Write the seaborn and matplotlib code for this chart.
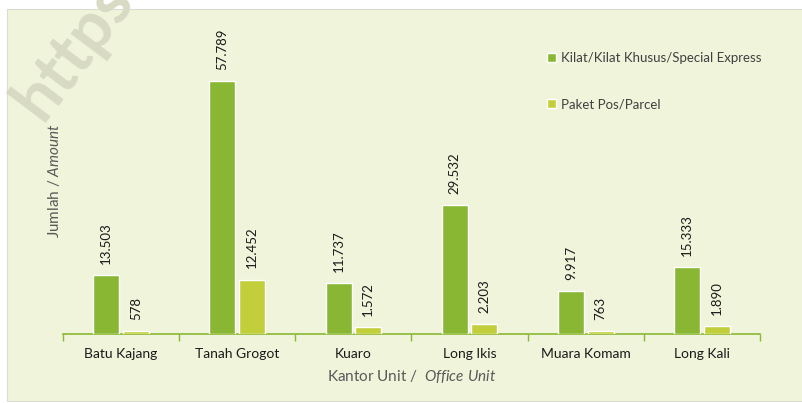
import matplotlib
matplotlib.use("Agg")
import matplotlib.pyplot as plt
import seaborn as sns
import pandas as pd
from matplotlib.patches import Rectangle

offices = ["Batu Kajang", "Tanah Grogot", "Kuaro", "Long Ikis", "Muara Komam", "Long Kali"]
series = ["Kilat/Kilat Khusus/Special Express", "Paket Pos/Parcel"]
kilat = [13503, 57789, 11737, 29532, 9917, 15333]
paket = [578, 12452, 1572, 2203, 763, 1890]

df = pd.DataFrame({
    "office": offices * 2,
    "type": [series[0]] * 6 + [series[1]] * 6,
    "value": kilat + paket,
})

sns.set_style("white")
plt.rcParams["font.family"] = ["Lato", "DejaVu Sans"]
plt.rcParams["mathtext.fontset"] = "custom"
plt.rcParams["mathtext.rm"] = "Lato"
plt.rcParams["mathtext.it"] = "Lato:italic"
plt.rcParams["xtick.bottom"] = True

bg = "#f0f4da"
fig = plt.figure(figsize=(8.03, 4.03), dpi=100)
fig.patch.set_facecolor("white")
fig.patches.append(Rectangle((7 / 803, 0.005), 1, 1 - 9 / 403 - 0.005, transform=fig.transFigure,
                             facecolor=bg, edgecolor="#d9dcd0", lw=0.8, zorder=-2))

# watermark
fig.text(74 / 803, 1 - 50 / 403, "https", rotation=53, fontsize=48, fontweight="bold",
         color="#d8dac3", ha="center", va="center", zorder=-1)

ax = fig.add_axes([63 / 803, 69 / 403, 697 / 803, 306 / 403])
ax.set_facecolor("none")

sns.barplot(data=df, x="office", y="value", hue="type", order=offices, hue_order=series,
            palette=["#8ab733", "#c3cf3a"], saturation=1, width=0.51, gap=0.12, ax=ax, zorder=3)

ax.set_ylim(0, 70000)
ax.set_xlim(-0.5, 5.5)

for cont in ax.containers:
    for bar in cont:
        v = bar.get_height()
        ax.annotate(f"{int(v):,}".replace(",", "."), (bar.get_x() + bar.get_width() / 2, v),
                    xytext=(0, 8), textcoords="offset points", rotation=90,
                    ha="center", va="bottom", fontsize=9.5, color="#1a1a1a")

for s in ["top", "right", "left"]:
    ax.spines[s].set_visible(False)
ax.spines["bottom"].set_color("#8ab733")
ax.spines["bottom"].set_linewidth(1.2)
ax.set_yticks([])
ax.set_xticks(range(6))
ax.set_xticklabels(offices, fontsize=10, color="#1a1a1a")
ax.tick_params(axis="x", which="major", length=0, pad=10)
ax.set_xticks([i - 0.5 for i in range(7)], minor=True)
ax.tick_params(axis="x", which="minor", bottom=True, length=5, color="#8ab733", width=1)

ax.set_xlabel("Kantor Unit /  $\\mathit{Office\\ Unit}$", fontsize=11, color="#595959", labelpad=6)
ax.set_ylabel("Jumlah / $\\mathit{Amount}$", fontsize=11, color="#595959", labelpad=1)

leg = ax.legend(loc="upper left", frameon=False, fontsize=9.5,
                handlelength=0.7, handleheight=0.7, labelspacing=2.6, handletextpad=0.4)
leg.set_bbox_to_anchor((535 / 803, 1 - 40 / 403), transform=fig.transFigure)
for t in leg.get_texts():
    t.set_color("#404040")

fig.savefig("out.png", dpi=100, facecolor=fig.get_facecolor())
